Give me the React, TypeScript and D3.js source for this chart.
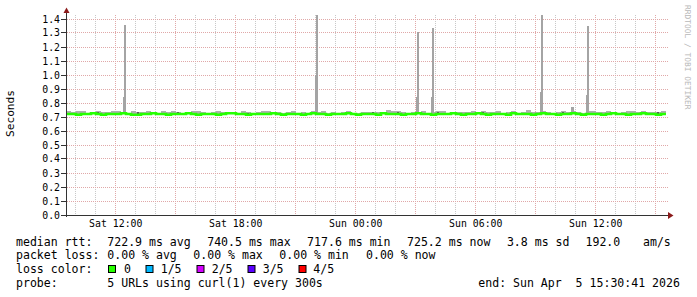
import React from 'react';
import * as d3 from 'd3';

// ---- data ----
const END = Date.UTC(2026, 3, 5, 15, 30, 41);
const SPAN_H = 30;
const START = END - SPAN_H * 3600 * 1000;
const BIN_MIN = 15;

// median rtt per 15-min bin (seconds)
const median = [
  0.721, 0.721, 0.716, 0.721, 0.721, 0.727, 0.721, 0.716, 0.721, 0.721, 0.721, 0.727, 0.721, 0.716, 0.716, 0.721, 0.721, 0.727, 0.721, 0.721,
  0.716, 0.721, 0.721, 0.721, 0.727, 0.721, 0.716, 0.721, 0.721, 0.721, 0.716, 0.721, 0.727, 0.727, 0.721, 0.721, 0.716, 0.721, 0.721, 0.721,
  0.721, 0.727, 0.721, 0.716, 0.721, 0.721, 0.721, 0.716, 0.721, 0.727, 0.721, 0.721, 0.716, 0.721, 0.721, 0.721, 0.727, 0.721, 0.716, 0.721,
  0.721, 0.721, 0.716, 0.727, 0.721, 0.721, 0.721, 0.716, 0.721, 0.721, 0.727, 0.721, 0.721, 0.716, 0.721, 0.721, 0.721, 0.727, 0.721, 0.716,
  0.721, 0.721, 0.727, 0.721, 0.716, 0.721, 0.721, 0.721, 0.716, 0.727, 0.721, 0.721, 0.721, 0.716, 0.721, 0.727, 0.721, 0.721, 0.716, 0.721,
  0.721, 0.727, 0.721, 0.716, 0.721, 0.721, 0.721, 0.716, 0.721, 0.727, 0.721, 0.721, 0.716, 0.721, 0.721, 0.727, 0.721, 0.721, 0.716, 0.721,
];

// top of the smoke (highest ping) per bin
const smokeHi = [
  0.741, 0.736, 0.742, 0.742, 0.731, 0.738, 0.742, 0.735, 0.733, 0.740, 0.742, 0.735, 0.731, 0.742, 0.738, 0.733, 0.740, 0.735, 0.730, 0.741,
  0.733, 0.742, 0.737, 0.731, 0.735, 0.742, 0.740, 0.733, 0.729, 0.737, 0.742, 0.735, 0.735, 0.737, 0.731, 0.742, 0.735, 0.729, 0.733, 0.740,
  0.742, 0.733, 0.735, 0.729, 0.737, 0.742, 0.731, 0.735, 0.731, 0.742, 0.733, 0.740, 0.731, 0.735, 0.729, 0.733, 0.741, 0.731, 0.729, 0.735,
  0.733, 0.737, 0.733, 0.729, 0.748, 0.744, 0.742, 0.735, 0.729, 0.735, 0.733, 0.740, 0.729, 0.735, 0.746, 0.742, 0.731, 0.738, 0.735, 0.733,
  0.733, 0.742, 0.735, 0.744, 0.733, 0.735, 0.742, 0.731, 0.735, 0.740, 0.729, 0.737, 0.748, 0.735, 0.733, 0.742, 0.735, 0.731, 0.733, 0.742,
  0.735, 0.744, 0.735, 0.731, 0.742, 0.740, 0.735, 0.733, 0.740, 0.735, 0.731, 0.737, 0.744, 0.742, 0.735, 0.742, 0.735, 0.733, 0.738, 0.742,
];

// darker inner smoke per bin (0 = none)
const smokeMid = [
  0, 0, 0, 0.729, 0, 0, 0.733, 0, 0, 0, 0.731, 0, 0, 0, 0.733, 0, 0, 0, 0, 0.729,
  0, 0, 0.733, 0, 0, 0, 0, 0, 0, 0.729, 0, 0, 0, 0, 0, 0, 0.731, 0, 0, 0,
  0, 0, 0, 0, 0.731, 0, 0, 0, 0, 0, 0.729, 0, 0, 0, 0, 0.729, 0, 0, 0, 0,
  0, 0.733, 0, 0, 0, 0, 0.735, 0, 0, 0, 0, 0, 0, 0, 0.733, 0, 0, 0, 0, 0,
  0, 0, 0, 0.733, 0, 0, 0, 0, 0, 0, 0, 0, 0, 0, 0, 0.733, 0, 0, 0, 0.735,
  0, 0, 0, 0, 0.729, 0, 0, 0, 0, 0.735, 0, 0.731, 0, 0, 0, 0, 0, 0, 0.733, 0,
];

// spikes (hours after start, 4th ping, 5th ping)
const spikeHours = [2.85, 12.45, 17.5, 18.25, 23.7, 25.25, 26.0];
const spikeP4 = [0.84, 1.0, 0.84, 0.845, 0.88, 0.77, 0.855];
const spikeP5 = [1.355, 1.43, 1.31, 1.335, 1.43, 0.77, 1.35];

const yTicks = [0, 0.1, 0.2, 0.3, 0.4, 0.5, 0.6, 0.7, 0.8, 0.9, 1.0, 1.1, 1.2, 1.3, 1.4];

const legendLine1 = ['median rtt:', '722.9 ms avg', '740.5 ms max', '717.6 ms min', '725.2 ms now', '3.8 ms sd', '192.0', 'am/s'];
const legendLine2 = ['packet loss:', '0.00 % avg', '0.00 % max', '0.00 % min', '0.00 % now'];
const lossLabels = ['0', '1/5', '2/5', '3/5', '4/5'];
const lossColors = ['#26ff00', '#00b8ff', '#d400ff', '#5a00ff', '#ff0000'];
const probeText = ['probe:', '5 URLs using curl(1) every 300s', 'end: Sun Apr  5 15:30:41 2026'];

const MONO = '"DejaVu Sans Mono", monospace';

export default function App() {
  const W = 697, H = 297;
  const x = d3.scaleUtc().domain([START, END]).range([66, 666]);
  const y = d3.scaleLinear().domain([0, 200 / 140]).range([215, 15]);
  const px = (v: number) => Math.floor(v) + 0.5;

  const binT = (i: number) => START + i * BIN_MIN * 60000;
  const hourT = (h: number) => START + h * 3600000;

  const minorTicks = x.ticks(d3.utcHour.every(1)!);
  const majorTicks = x.ticks(d3.utcHour.every(3)!);
  const labelTicks = x.ticks(d3.utcHour.every(6)!);
  const fmt = d3.utcFormat('%a %H:%M');

  const lineData = median.map((v, i) => [binT(i), v] as [number, number]);
  lineData.push([END, median[median.length - 1]]);
  const medLine = d3.line<[number, number]>()
    .x(d => x(d[0]))
    .y(d => y(d[1]))
    .curve(d3.curveStepAfter);

  const l1x = [16, 107.3, 207.2, 307.1, 407, 506.9, 585.5, 643];
  const l2x = [16, 107.3, 193.3, 279.3, 366];
  const boxX = [108, 145.5, 196.5, 247.5, 298.5];
  const l3x = [124, 160.7, 211.7, 262.7, 313.3];
  const l4x = [16, 107.3, 478.3];

  return (
    <svg width={W} height={H} style={{ position: 'absolute', left: 0, top: 0, background: '#fff' }}
      fontFamily={MONO}>
      <rect x={0} y={0} width={W} height={H} fill="#fff" />
      {/* minor vertical grid */}
      {minorTicks.map((t, i) => (
        <line key={'mv' + i} x1={px(x(t))} x2={px(x(t))} y1={15} y2={215}
          stroke="#c8c8c8" strokeDasharray="1 1" />
      ))}
      {/* major vertical grid */}
      {majorTicks.map((t, i) => (
        <line key={'Mv' + i} x1={px(x(t))} x2={px(x(t))} y1={15} y2={217}
          stroke="#e0a8a8" strokeDasharray="1 1" />
      ))}
      {/* horizontal grid */}
      {yTicks.slice(1).map((v, i) => (
        <line key={'h' + i} x1={63} x2={668} y1={px(y(v))} y2={px(y(v))}
          stroke="#e0a8a8" strokeDasharray="1 1" />
      ))}
      {/* smoke */}
      <g shapeRendering="crispEdges">
        {smokeHi.map((v, i) => (
          <rect key={'s' + i} x={x(binT(i))} width={x(binT(i + 1)) - x(binT(i))}
            y={y(v)} height={y(median[i]) - y(v)} fill="#b0b0b0" />
        ))}
        {smokeMid.map((v, i) => v > 0 ? (
          <rect key={'sm' + i} x={x(binT(i)) + 1} width={2}
            y={y(v)} height={y(median[i]) - y(v)} fill="#5a5a5a" />
        ) : null)}
        {spikeHours.map((h, i) => (
          <g key={'sp' + i}>
            <rect x={x(hourT(h))} width={x(hourT(h + 0.15)) - x(hourT(h))}
              y={y(spikeP4[i])} height={y(0.73) - y(spikeP4[i])} fill="#a4a4a4" />
            <rect x={x(hourT(h + 0.05))} width={x(hourT(h + 0.15)) - x(hourT(h + 0.05))}
              y={y(spikeP5[i])} height={y(0.73) - y(spikeP5[i])} fill="#a4a4a4" />
          </g>
        ))}
      </g>
      {/* median line */}
      <path d={medLine(lineData) || ''} fill="none" stroke="#26ff00" strokeWidth={2.6} />
      {/* axes */}
      <line x1={61} x2={669} y1={215.5} y2={215.5} stroke="#333" />
      <line x1={66.5} x2={66.5} y1={12} y2={217} stroke="#333" />
      <path d="M668,212 L673.5,215.5 L668,219 Z" fill="#8b1a1a" />
      <path d="M63.5,13 L66.5,7.5 L69.5,13 Z" fill="#8b1a1a" />
      {/* y labels */}
      {yTicks.map((v, i) => (
        <g key={'yl' + i}>
          <line x1={61} x2={66} y1={px(y(v))} y2={px(y(v))} stroke="#333" />
          <text x={60} y={px(y(v)) + 3.6} fontSize={9.85} textAnchor="end" fill="#000">
            {d3.format('.1f')(v)}
          </text>
        </g>
      ))}
      {/* x labels */}
      {labelTicks.map((t, i) => (
        <text key={'xl' + i} x={x(t)} y={227.3} fontSize={9.85} textAnchor="middle" fill="#000">
          {fmt(t)}
        </text>
      ))}
      {/* axis title */}
      <text transform="translate(14,113.5) rotate(-90)" fontSize={11.2} textAnchor="middle" fill="#000">Seconds</text>
      {/* watermark */}
      <text transform="translate(685,5) rotate(90)" fontSize={7.9} fill="#b8b8b8">RRDTOOL / TOBI OETIKER</text>
      {/* legend */}
      <g fontSize={11.55} fill="#000" style={{ whiteSpace: 'pre' }}>
        {legendLine1.map((s, i) => <text key={'a' + i} x={l1x[i]} y={245.5}>{s}</text>)}
        {legendLine2.map((s, i) => <text key={'b' + i} x={l2x[i]} y={259.2}>{s}</text>)}
        <text x={16} y={272.9}>loss color:</text>
        {lossLabels.map((s, i) => (
          <g key={'c' + i}>
            <rect x={boxX[i] + 0.5} y={265.5} width={7} height={7} fill={lossColors[i]} stroke="#000" />
            <text x={l3x[i]} y={272.9}>{s}</text>
          </g>
        ))}
        {probeText.map((s, i) => <text key={'d' + i} x={l4x[i]} y={286.6} xmlSpace="preserve">{s}</text>)}
      </g>
    </svg>
  );
}
